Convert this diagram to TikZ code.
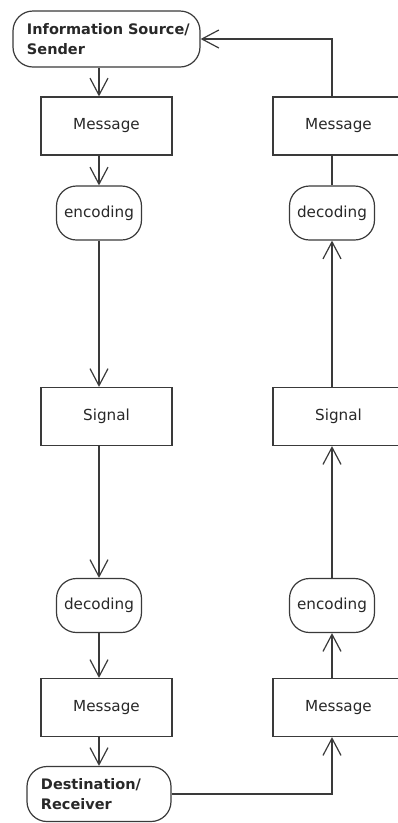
\documentclass[tikz,border=0pt]{standalone}
\usepackage{fontspec}
\setmainfont{DejaVu Sans}
\usetikzlibrary{arrows.meta}
\definecolor{linegray}{RGB}{58,58,58}
\definecolor{textgray}{RGB}{40,40,40}
\begin{document}
\begin{tikzpicture}[x=1pt,y=-1pt,
  every node/.style={text=textgray, font=\fontsize{15.2}{20}\selectfont},
  box/.style={draw=linegray, line width=1.2pt, fill=white,
    minimum width=131pt, minimum height=58pt, inner sep=0pt},
  act/.style={draw=linegray, line width=1.2pt, rounded corners=20pt, fill=white,
    minimum width=85pt, minimum height=54pt, inner sep=0pt},
  term/.style={draw=linegray, line width=1.2pt, rounded corners=20pt, fill=white,
    align=left, inner xsep=14pt, inner ysep=0pt,
    font=\bfseries\fontsize{14.5}{20}\selectfont},
  flow/.style={draw=linegray, line width=1.2pt,
    -{Straight Barb[length=17pt,width=18pt,line width=1.2pt]}},
  link/.style={draw=linegray, line width=1.2pt}]
  \useasboundingbox (0,0) rectangle (398,823);
  \clip (0,0) rectangle (398,823);

  % sending column
  \node[term, text width=159pt, minimum height=56pt] (src) at (106.5,39)
    {\mbox{Information Source/}\\Sender};
  \node[box] (msg1) at (106.5,126) {Message};
  \node[act] (enc1) at (99,213) {encoding};
  \node[box] (sig1) at (106.5,416.5) {Signal};
  \node[act] (dec1) at (99,605.5) {decoding};
  \node[box] (msg2) at (106.5,707.5) {Message};
  \node[term, text width=116pt, minimum height=55pt] (dst) at (99,794)
    {Destination/\\Receiver};

  % returning column
  \node[box] (msg3) at (338.5,126) {Message};
  \node[act] (dec2) at (332,213) {decoding};
  \node[box] (sig2) at (338.5,416.5) {Signal};
  \node[act] (enc2) at (332,605.5) {encoding};
  \node[box] (msg4) at (338.5,707.5) {Message};

  % downward flow
  \draw[flow] (src.south -| enc1) -- (msg1.north -| enc1);
  \draw[flow] (msg1.south -| enc1) -- (enc1.north);
  \draw[flow] (enc1.south) -- (sig1.north -| enc1);
  \draw[flow] (sig1.south -| dec1) -- (dec1.north);
  \draw[flow] (dec1.south) -- (msg2.north -| dec1);
  \draw[flow] (msg2.south -| dec1) -- (dst.north -| dec1);

  % upward flow back to the sender
  \draw[flow] (dst.east) -| (msg4.south -| enc2);
  \draw[flow] (msg4.north -| enc2) -- (enc2.south);
  \draw[flow] (enc2.north) -- (sig2.south -| enc2);
  \draw[flow] (sig2.north -| dec2) -- (dec2.south);
  \draw[link] (dec2.north) -- (msg3.south -| dec2);
  \draw[flow] (msg3.north -| dec2) |- (src.east);
\end{tikzpicture}
\end{document}
